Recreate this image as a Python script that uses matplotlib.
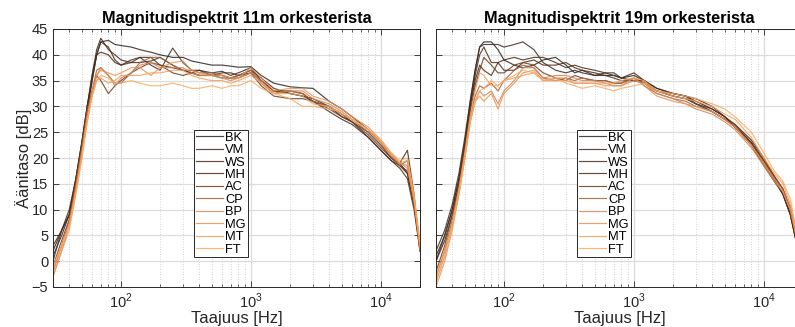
import matplotlib
matplotlib.use("Agg")
import matplotlib.pyplot as plt
from matplotlib.ticker import LogLocator, FixedLocator, NullFormatter

plt.rcParams['font.family'] = ['Liberation Sans', 'DejaVu Sans']
plt.rcParams['mathtext.fontset'] = 'custom'
plt.rcParams['mathtext.rm'] = 'Liberation Sans'

freqs = [30, 35, 40, 45, 50, 55, 60, 65, 70, 80, 90, 100, 120, 140, 170, 200, 250, 300, 350, 400,
         500, 600, 700, 800, 1000, 1200, 1500, 2000, 2500, 3000, 4000, 5000, 6000, 8000, 10000,
         12000, 14000, 16000, 18000, 20000]

names = ["BK", "VM", "WS", "MH", "AC", "CP", "BP", "MG", "MT", "FT"]
colors = ["#2a2522", "#3d2c24", "#4a2c1a", "#4f2a14", "#6e3c1e", "#a0623a", "#d0865a", "#ee9150",
          "#f59c58", "#f8aa62"]

spec_11m = {
    "BK": [2, 6, 9, 15, 22, 29, 35, 40, 42.5, 42.8, 42, 41.8, 41.5, 41, 40.5, 40, 39.5, 39.5, 38.8, 38.5,
           38, 38, 37.8, 37.6, 37.7, 36, 34.5, 33.8, 33.6, 33.5, 31, 29.5, 28, 25.5, 23, 20.5, 19, 17, 11, 3],
    "VM": [1, 5, 9, 16, 23, 30, 36, 41, 43.2, 41, 40, 39, 38.5, 38.5, 38.8, 39.5, 38, 37, 36.5, 37,
           36.5, 36.8, 36, 36.5, 37.5, 35, 33, 32.5, 32, 31, 30, 28, 27, 24, 21.5, 19.5, 18.5, 17, 11, 2],
    "WS": [0, 6, 9, 16, 23, 30, 35, 40, 42.5, 41.5, 39, 38, 38.5, 39.5, 38, 37, 41.3, 38.5, 37, 37,
           36, 36.5, 36.5, 36, 37, 35.5, 33.5, 32.5, 32, 31.5, 30, 28.5, 27, 25, 22.5, 20, 19, 21.5, 13, 2],
    "MH": [3, 6, 10, 16, 23, 30, 36, 40, 40.5, 40, 38.5, 38, 39, 39.5, 39.5, 38, 37.5, 37, 36.5, 36,
           36, 36, 35.5, 36, 36.5, 35, 33, 33, 32.5, 31, 29, 27.5, 26.5, 24, 21.5, 19.5, 18, 16, 10, 2],
    "AC": [-1, 4, 8, 15, 22, 29, 33, 36, 35, 32.5, 34, 35, 36.5, 37.5, 38.5, 38, 36.5, 36, 36.5, 36,
           36, 35.5, 35.5, 35.5, 36.5, 34, 32, 31.5, 31.5, 31, 29.5, 28, 27, 24.5, 22, 20, 18.5, 17.5, 11, 3],
    "CP": [-2, 3, 8, 15, 22, 29, 33, 37, 37.5, 36, 34.5, 34.5, 36.5, 38.5, 39.5, 39.5, 38, 37, 37, 36.5,
           36.5, 36, 35.5, 36, 37, 34.5, 32.5, 33, 32.5, 31, 30, 28.5, 27.5, 25, 22.5, 20.5, 18.5, 19.5, 12, 3],
    "BP": [-3, 2, 7, 14, 21, 28, 32, 36, 37.5, 36, 34, 35.5, 36.5, 38, 38.5, 37.5, 37.5, 37.5, 36.5, 36,
           36, 35.5, 35, 35.5, 36.5, 35, 32.5, 33, 33, 31.5, 30.5, 29, 27.5, 25.5, 23, 20.5, 19, 18.5, 11.5, 2],
    "MG": [-2, 3, 7, 14, 21, 28, 33, 36, 37, 36.5, 36, 36.5, 37.5, 37.5, 36, 37.5, 38.5, 38.8, 37, 36.5,
           36, 36, 35.5, 35.5, 37.5, 35.5, 33, 33.5, 33.5, 32, 31, 29.5, 28, 26, 23.5, 21, 19, 18, 12, 3],
    "MT": [-3, 2, 6, 13, 20, 27, 32, 35, 35.5, 34.5, 35, 36, 36, 36, 36.5, 36.5, 37, 37, 36, 35.5,
           35, 35, 34.5, 35, 36, 34.5, 32.5, 32.5, 32, 30.5, 30, 28.5, 27.5, 25.5, 23, 20.5, 19, 19.5, 12, 3],
    "FT": [-1, 3, 7, 13, 20, 27, 32, 35, 36, 35.5, 34.5, 34.5, 35, 34.5, 34, 34, 34.5, 34, 33.5, 33.5,
           34, 33.5, 34, 34, 35, 33.5, 32.5, 31.5, 30, 30, 29.5, 29, 27.5, 25.5, 23.5, 21, 19.5, 20, 13, 4],
}

spec_19m = {
    "BK": [0, 5, 10, 16, 23, 31, 37, 41.5, 42.5, 42.5, 41, 39, 38, 37.5, 38, 39, 39.5, 38, 36.5, 37,
           36, 36, 36, 35.5, 36, 35, 33.5, 32.5, 32, 31, 29.5, 28, 26, 23, 19, 16, 13, 9, 3, -2],
    "VM": [2, 6, 11, 17, 24, 31, 37, 41.5, 42, 42, 42, 41.5, 42, 42.5, 41, 38.5, 37, 36.5, 37, 36.5,
           36, 36.5, 36.5, 35.5, 35, 35, 33.5, 32.5, 32, 31.5, 30, 28, 26.5, 23.5, 20, 16.5, 14, 10, 4, -1],
    "WS": [1, 5, 10, 16, 23, 30, 36, 40, 41.5, 38.5, 38.5, 39, 39.5, 39, 39.5, 39.5, 38.5, 37.5, 38, 37.5,
           37, 36.5, 36, 35.5, 36.5, 35, 33, 32, 31.5, 30.5, 29.5, 28, 26, 23, 19.5, 16, 13, 9, 3, -2],
    "MH": [0, 4, 9, 15, 22, 30, 35, 38, 37, 36, 38.5, 37, 37, 38.5, 39, 38, 38, 38.5, 37.5, 37,
           36.5, 36, 35.5, 35, 35, 34.5, 33, 32.5, 32, 30.5, 29, 27.5, 26, 22.5, 18.5, 15.5, 13, 9, 3, -2],
    "AC": [-2, 3, 9, 15, 22, 29, 34, 37, 39.5, 38, 36.5, 36.5, 38, 38.5, 38, 36.5, 35.5, 35, 36, 35.5,
           35, 35, 34.5, 34.5, 35.5, 34.5, 33, 32, 31.5, 30.5, 29, 27.5, 26.5, 23, 19.5, 16.5, 14, 10, 4, -1],
    "CP": [-3, 2, 8, 14, 21, 28, 32, 34, 33.5, 34.5, 33, 35, 37, 38, 37.5, 35.5, 35, 35.5, 35, 35.5,
           35, 35, 34.5, 34.5, 35.5, 34, 32.5, 31.5, 31, 30, 29, 27.5, 26, 22.5, 19, 16, 14, 10.5, 4, -1],
    "BP": [-4, 1, 7, 13, 20, 27, 31, 33, 32, 33, 30.5, 33, 35, 37.5, 37.5, 35.5, 36, 36, 35.5, 35,
           35, 34.5, 34, 34, 35, 34.5, 32.5, 31.5, 30.5, 29.5, 28.5, 27, 25.5, 22, 18.5, 15.5, 13.5, 10, 4, -1],
    "MG": [-5, 0, 6, 13, 20, 27, 31, 32, 31, 32.5, 29.5, 32.5, 34.5, 36.5, 37, 35, 35.5, 35.5, 34.5, 34.5,
           34.5, 34, 34, 34, 35.5, 34, 32, 31, 30.5, 30, 29, 27.5, 26, 22.5, 19, 16, 13.5, 10, 4, -1],
    "MT": [-3, 2, 7, 14, 21, 28, 33, 36.5, 36, 34, 34, 35, 35.5, 36, 36.5, 35, 35, 35, 34.5, 34.5,
           34.5, 34.5, 34.5, 35, 35.5, 35, 33, 32, 31.5, 31, 30, 28.5, 27.5, 24, 20, 17, 15, 11, 5, 0],
    "FT": [-4, 1, 7, 13, 20, 27, 31, 33, 33.5, 35, 34, 35, 36, 37, 36.5, 35, 35.5, 34.5, 34, 33.5,
           34, 33.5, 33, 33.5, 34, 34.5, 33, 32.5, 32, 31.5, 30.5, 29.5, 28, 25, 21, 17.5, 15.5, 12, 5, 0],
}

titles = ["Magnitudispektrit 11m orkesterista", "Magnitudispektrit 19m orkesterista"]
y_ticks = [-5, 0, 5, 10, 15, 20, 25, 30, 35, 40, 45]

fig = plt.figure(figsize=(7.95, 3.27), dpi=100)
W, H = 795, 327
ax_w = 367 / W
ax_h = 258 / H
bottom = (H - 287) / H
axes = [fig.add_axes([53 / W, bottom, ax_w, ax_h]),
        fig.add_axes([436 / W, bottom, ax_w, ax_h])]

for i, (ax, spec, title) in enumerate(zip(axes, [spec_11m, spec_19m], titles)):
    for name, col in zip(names, colors):
        ax.plot(freqs, spec[name], color=col, lw=0.85, alpha=0.85, label=name)
    ax.set_xscale('log')
    ax.set_xlim(30, 20000)
    ax.set_ylim(-5, 45)
    ax.set_yticks(y_ticks)
    ax.xaxis.set_major_locator(FixedLocator([100, 1000, 10000]))
    ax.xaxis.set_minor_locator(LogLocator(base=10, subs=range(2, 10), numticks=20))
    ax.xaxis.set_minor_formatter(NullFormatter())
    ax.set_xticklabels([r'$10^2$', r'$10^3$', r'$10^4$'])
    ax.grid(True, which='major', color='#dcdcdc', lw=0.9, ls='-')
    ax.grid(True, which='minor', axis='x', color='#c8c8c8', lw=0.6, ls=(0, (1, 2)))
    ax.set_axisbelow(True)
    ax.tick_params(which='both', direction='in', top=True, right=True, colors='#262626',
                   labelsize=10.5, labelcolor='#262626')
    ax.tick_params(which='major', length=4, width=0.6)
    ax.tick_params(which='minor', length=2.2, width=0.5)
    for s in ax.spines.values():
        s.set_color('#262626')
        s.set_linewidth(0.7)
    ax.set_xlabel('Taajuus [Hz]', fontsize=12, color='#262626', labelpad=0)
    ax.set_title(title, fontsize=11.8, fontweight='bold', pad=4)
    if i == 0:
        ax.set_ylabel('Äänitaso [dB]', fontsize=12, color='#262626', labelpad=0)
    else:
        ax.tick_params(labelleft=False)
    leg = ax.legend(loc='center', bbox_to_anchor=(0.458, 0.362), fontsize=9.3, frameon=True,
                    fancybox=False, edgecolor='#262626', framealpha=1, handlelength=2.1,
                    handletextpad=0.15, labelspacing=0.03, borderpad=0.15, borderaxespad=0)
    leg.get_frame().set_linewidth(0.7)

fig.savefig('out.png', dpi=100)
